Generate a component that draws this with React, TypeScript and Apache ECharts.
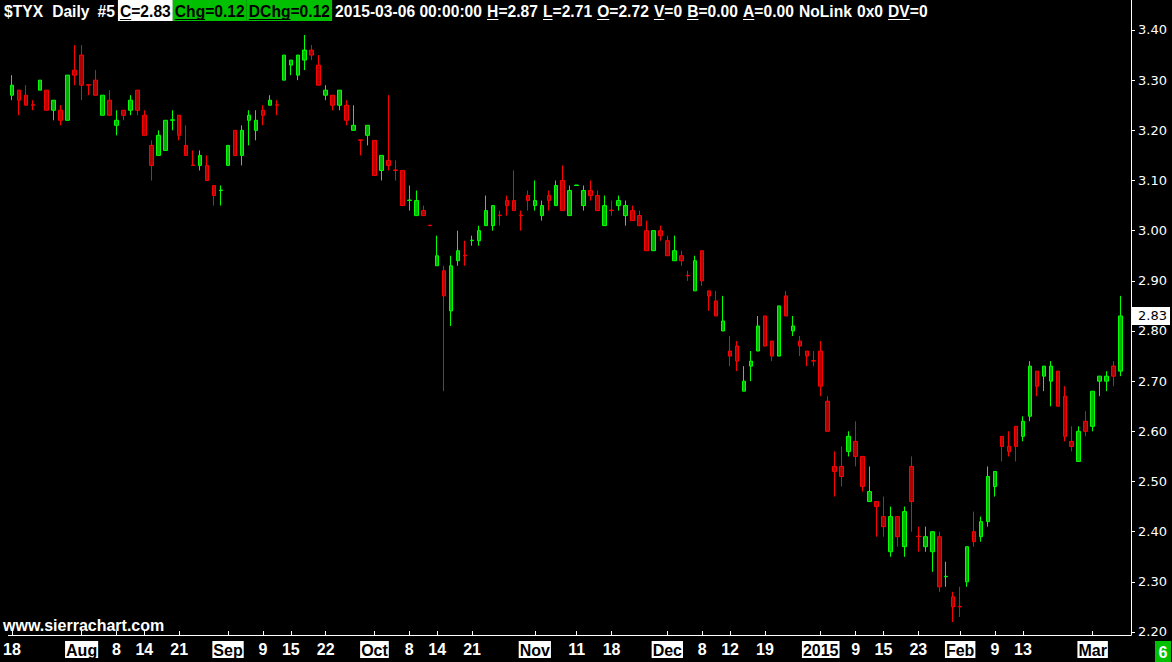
import React, { useEffect, useRef } from "react";
import * as echarts from "echarts";

// Trading days (categories)
const tradingDays: [string, number[]][] = [
  ["2014-07", [18, 21, 22, 23, 24, 25, 28, 29, 30, 31]],
  ["2014-08", [1, 4, 5, 6, 7, 8, 11, 12, 13, 14, 15, 18, 19, 20, 21, 22, 25, 26, 27, 28, 29]],
  ["2014-09", [2, 3, 4, 5, 8, 9, 10, 11, 12, 15, 16, 17, 18, 19, 22, 23, 24, 25, 26, 29, 30]],
  ["2014-10", [1, 2, 3, 6, 7, 8, 9, 10, 13, 14, 15, 16, 17, 20, 21, 22, 23, 24, 27, 28, 29, 30, 31]],
  ["2014-11", [3, 4, 5, 6, 7, 10, 11, 12, 13, 14, 17, 18, 19, 20, 21, 24, 25, 26, 28]],
  ["2014-12", [1, 2, 3, 4, 5, 8, 9, 10, 11, 12, 15, 16, 17, 18, 19, 22, 23, 24, 26, 29, 30, 31]],
  ["2015-01", [2, 5, 6, 7, 8, 9, 12, 13, 14, 15, 16, 20, 21, 22, 23, 26, 27, 28, 29, 30]],
  ["2015-02", [2, 3, 4, 5, 6, 9, 10, 11, 12, 13, 17, 18, 19, 20, 23, 24, 25, 26, 27]],
  ["2015-03", [2, 3, 4, 5, 6]],
];
const dates: string[] = tradingDays.flatMap(([m, ds]) =>
  ds.map((d) => `${m}-${String(d).padStart(2, "0")}`)
);

const open = [
  3.27, 3.28, 3.27, 3.251, 3.28, 3.28, 3.24, 3.24, 3.22, 3.32,
  3.35, 3.291, 3.30, 3.23, 3.26, 3.21, 3.24, 3.24, 3.28, 3.23,
  3.17, 3.15, 3.16, 3.22, 3.23, 3.17, 3.131, 3.13, 3.13, 3.09,
  3.08, 3.13, 3.20, 3.15, 3.22, 3.20, 3.24, 3.25, 3.251, 3.30,
  3.33, 3.31, 3.34, 3.36, 3.33, 3.27, 3.27, 3.25, 3.25, 3.20,
  3.181, 3.19, 3.18, 3.12, 3.14, 3.121, 3.12, 3.06, 3.03, 3.04,
  3.011, 2.93, 2.92, 2.84, 2.94, 2.951, 2.98, 2.98, 3.01, 3.01,
  3.031, 3.06, 3.06, 3.031, 3.07, 3.05, 3.03, 3.07, 3.05, 3.10,
  3.03, 3.09, 3.05, 3.08, 3.07, 3.01, 3.041, 3.05, 3.03, 3.04,
  3.03, 3.00, 2.96, 3.00, 2.98, 2.94, 2.95, 2.911, 2.88, 2.96,
  2.88, 2.86, 2.80, 2.76, 2.77, 2.68, 2.73, 2.76, 2.83, 2.78,
  2.75, 2.87, 2.80, 2.78, 2.76, 2.741, 2.76, 2.66, 2.53, 2.53,
  2.56, 2.58, 2.55, 2.46, 2.46, 2.43, 2.36, 2.43, 2.37, 2.53,
  2.391, 2.37, 2.36, 2.39, 2.31, 2.27, 2.251, 2.30, 2.40, 2.39,
  2.42, 2.49, 2.59, 2.57, 2.61, 2.59, 2.63, 2.72, 2.71, 2.70,
  2.72, 2.67, 2.58, 2.54, 2.62, 2.61, 2.70, 2.70, 2.73, 2.72,
];
const close = [
  3.29, 3.26, 3.25, 3.25, 3.30, 3.24, 3.26, 3.22, 3.31, 3.31,
  3.29, 3.29, 3.27, 3.27, 3.23, 3.22, 3.23, 3.26, 3.24, 3.19,
  3.13, 3.19, 3.22, 3.221, 3.19, 3.15, 3.13, 3.15, 3.10, 3.07,
  3.081, 3.17, 3.15, 3.20, 3.23, 3.22, 3.23, 3.26, 3.25, 3.35,
  3.34, 3.35, 3.36, 3.35, 3.29, 3.28, 3.25, 3.28, 3.22, 3.21,
  3.18, 3.21, 3.11, 3.15, 3.13, 3.12, 3.05, 3.061, 3.06, 3.03,
  3.01, 2.95, 2.87, 2.93, 2.96, 2.95, 2.981, 3.00, 3.04, 3.05,
  3.03, 3.05, 3.04, 3.03, 3.06, 3.06, 3.05, 3.06, 3.09, 3.04,
  3.08, 3.091, 3.08, 3.07, 3.04, 3.05, 3.04, 3.06, 3.05, 3.02,
  3.01, 2.96, 3.00, 2.99, 2.95, 2.96, 2.94, 2.91, 2.94, 2.90,
  2.87, 2.83, 2.82, 2.75, 2.74, 2.70, 2.74, 2.81, 2.77, 2.75,
  2.85, 2.83, 2.81, 2.77, 2.75, 2.74, 2.69, 2.60, 2.52, 2.51,
  2.59, 2.55, 2.49, 2.48, 2.45, 2.41, 2.43, 2.39, 2.44, 2.46,
  2.39, 2.39, 2.40, 2.29, 2.311, 2.25, 2.25, 2.37, 2.38, 2.42,
  2.51, 2.52, 2.57, 2.56, 2.57, 2.62, 2.73, 2.69, 2.73, 2.73,
  2.65, 2.59, 2.57, 2.60, 2.60, 2.68, 2.71, 2.71, 2.71, 2.83,
];
const high = [
  3.31, 3.28, 3.29, 3.26, 3.30, 3.28, 3.26, 3.25, 3.31, 3.37,
  3.37, 3.291, 3.32, 3.27, 3.28, 3.24, 3.24, 3.27, 3.28, 3.24,
  3.18, 3.20, 3.22, 3.24, 3.23, 3.21, 3.16, 3.16, 3.15, 3.09,
  3.09, 3.17, 3.20, 3.21, 3.24, 3.24, 3.25, 3.27, 3.26, 3.35,
  3.34, 3.35, 3.39, 3.37, 3.35, 3.29, 3.27, 3.28, 3.26, 3.25,
  3.181, 3.21, 3.18, 3.15, 3.27, 3.14, 3.12, 3.09, 3.08, 3.05,
  3.011, 2.99, 2.93, 2.95, 3.00, 2.98, 2.99, 3.01, 3.07, 3.05,
  3.04, 3.07, 3.12, 3.04, 3.08, 3.10, 3.06, 3.08, 3.10, 3.13,
  3.09, 3.091, 3.09, 3.10, 3.08, 3.07, 3.06, 3.07, 3.06, 3.05,
  3.04, 3.02, 3.00, 3.01, 2.99, 2.99, 2.96, 2.92, 2.95, 2.96,
  2.88, 2.88, 2.87, 2.79, 2.78, 2.73, 2.76, 2.83, 2.83, 2.78,
  2.85, 2.88, 2.83, 2.79, 2.76, 2.76, 2.78, 2.67, 2.56, 2.57,
  2.60, 2.62, 2.55, 2.53, 2.46, 2.47, 2.45, 2.43, 2.45, 2.55,
  2.41, 2.41, 2.40, 2.40, 2.34, 2.28, 2.29, 2.37, 2.44, 2.43,
  2.53, 2.52, 2.59, 2.60, 2.61, 2.63, 2.74, 2.72, 2.73, 2.74,
  2.72, 2.69, 2.61, 2.61, 2.64, 2.68, 2.71, 2.72, 2.74, 2.87,
];
const low = [
  3.26, 3.23, 3.25, 3.24, 3.28, 3.24, 3.22, 3.21, 3.22, 3.29,
  3.26, 3.27, 3.27, 3.23, 3.23, 3.19, 3.22, 3.23, 3.23, 3.19,
  3.10, 3.15, 3.16, 3.20, 3.18, 3.15, 3.13, 3.12, 3.10, 3.05,
  3.05, 3.13, 3.15, 3.13, 3.17, 3.18, 3.21, 3.25, 3.23, 3.30,
  3.31, 3.30, 3.32, 3.34, 3.29, 3.26, 3.24, 3.24, 3.21, 3.20,
  3.15, 3.17, 3.11, 3.10, 3.12, 3.10, 3.05, 3.04, 3.03, 3.03,
  3.01, 2.93, 2.68, 2.81, 2.93, 2.93, 2.97, 2.97, 3.01, 3.00,
  3.01, 3.03, 3.04, 3.00, 3.04, 3.04, 3.02, 3.04, 3.05, 3.04,
  3.03, 3.09, 3.04, 3.06, 3.04, 3.01, 3.03, 3.04, 3.01, 3.02,
  3.01, 2.96, 2.96, 2.98, 2.95, 2.94, 2.93, 2.90, 2.88, 2.89,
  2.84, 2.83, 2.80, 2.73, 2.72, 2.68, 2.70, 2.76, 2.77, 2.74,
  2.75, 2.83, 2.79, 2.75, 2.73, 2.73, 2.67, 2.60, 2.47, 2.49,
  2.55, 2.53, 2.48, 2.46, 2.39, 2.39, 2.35, 2.37, 2.35, 2.40,
  2.36, 2.36, 2.32, 2.28, 2.29, 2.22, 2.23, 2.29, 2.37, 2.38,
  2.41, 2.47, 2.54, 2.55, 2.54, 2.58, 2.62, 2.67, 2.68, 2.65,
  2.65, 2.58, 2.56, 2.54, 2.59, 2.60, 2.67, 2.68, 2.69, 2.71,
];

// Dates that carry a label on the time axis
const labelDates = [
  "2014-07-18", "2014-08-01", "2014-08-08", "2014-08-14", "2014-08-21",
  "2014-09-02", "2014-09-09", "2014-09-15", "2014-09-22",
  "2014-10-01", "2014-10-08", "2014-10-14", "2014-10-21",
  "2014-11-03", "2014-11-11", "2014-11-18",
  "2014-12-01", "2014-12-08", "2014-12-12", "2014-12-19",
  "2015-01-02", "2015-01-09", "2015-01-15", "2015-01-23",
  "2015-02-02", "2015-02-09", "2015-02-13", "2015-03-02",
];
const priceTicks = [2.2, 2.3, 2.4, 2.5, 2.6, 2.7, 2.8, 2.9, 3.0, 3.1, 3.2, 3.3, 3.4];
const monthNames = ["Jan", "Feb", "Mar", "Apr", "May", "Jun", "Jul", "Aug", "Sep", "Oct", "Nov", "Dec"];

const SANS = '"Liberation Sans", Arial, sans-serif';
const AXIS_SIZE = 16;
const HDR_SIZE = 17;

function measure(text: string, font: string): number {
  const c = document.createElement("canvas").getContext("2d");
  if (!c) return text.length * 8;
  c.font = font;
  return c.measureText(text).width;
}

export default function App() {
  const ref = useRef<HTMLDivElement>(null);

  useEffect(() => {
    if (!ref.current) return;
    const chart = echarts.init(ref.current, undefined, { renderer: "svg" });
    const labelSet = new Set(labelDates);
    const n = dates.length;
    const last = n - 1;
    const data = dates.map((_, i) => [open[i], close[i], low[i], high[i]]);

    const fmtDate = (value: string) => {
      if (!value) return "";
      const i = dates.indexOf(value);
      const [y, m, d] = value.split("-");
      if (i > 0 && dates[i - 1].slice(5, 7) !== m) {
        const txt = m === "01" ? y : monthNames[Number(m) - 1];
        return `{m|${txt}}`;
      }
      return String(Number(d));
    };

    chart.setOption({
      animation: false,
      backgroundColor: "#000",
      grid: { left: 4, top: 0, width: 1127, height: 635 },
      xAxis: {
        type: "category",
        data: dates,
        max: n,
        boundaryGap: true,
        axisLine: { show: true, lineStyle: { color: "#fff", width: 1 } },
        axisTick: {
          show: true,
          inside: true,
          length: 4,
          alignWithLabel: true,
          interval: (_i: number, v: string) => labelSet.has(v),
          lineStyle: { color: "#fff" },
        },
        axisLabel: {
          interval: (_i: number, v: string) => labelSet.has(v),
          formatter: fmtDate,
          color: "#fff",
          fontFamily: SANS,
          fontSize: AXIS_SIZE,
          fontWeight: "bold",
          margin: 6,
          rich: {
            m: {
              backgroundColor: "#fff",
              color: "#000",
              fontFamily: SANS,
              fontSize: AXIS_SIZE,
              fontWeight: "bold",
              padding: [1, 1, 0, 1],
            },
          },
        },
        splitLine: { show: false },
      },
      yAxis: {
        type: "value",
        position: "right",
        min: 2.194,
        max: 3.4598,
        axisLine: { show: true, lineStyle: { color: "#fff", width: 1 } },
        axisTick: { show: true, length: 4, customValues: priceTicks, lineStyle: { color: "#fff" } },
        axisLabel: {
          customValues: priceTicks,
          formatter: (v: number) => v.toFixed(2),
          color: "#fff",
          fontFamily: "DejaVu Sans",
          fontSize: 13,
          margin: 7,
        },
        splitLine: { show: false },
      },
      series: [
        {
          type: "candlestick",
          data,
          barWidth: 4,
          itemStyle: {
            color: "#00B000",
            color0: "#B00000",
            borderColor: "#00FF00",
            borderColor0: "#FF0000",
            borderWidth: 1,
          },
        },
      ],
    });

    // header + overlays
    const hdrFont = `bold ${HDR_SIZE}px ${SANS}`;
    const dateText = "2015-03-06 00:00:00";
    const sx = 147 / measure(dateText, hdrFont); // condensed look
    const chg = (close[last] - close[last - 1]).toFixed(2);
    const pieces: { t: string; ul?: string; bg?: string; fg?: string; gap?: number }[] = [
      { t: "$TYX", gap: 9 },
      { t: "Daily", gap: 8 },
      { t: "#5", gap: 5 },
      { t: `C=${close[last].toFixed(2)}`, ul: "C", bg: "#fff", fg: "#000", gap: 4 },
      { t: `Chg=${chg}`, ul: "Chg", bg: "#00C000", fg: "#000", gap: 4 },
      { t: `DChg=${chg}`, ul: "DChg", bg: "#00C000", fg: "#000", gap: 5 },
      { t: dateText },
      { t: `H=${high[last].toFixed(2)}`, ul: "H" },
      { t: `L=${low[last].toFixed(2)}`, ul: "L" },
      { t: `O=${open[last].toFixed(2)}`, ul: "O" },
      { t: "V=0", ul: "V" },
      { t: "B=0.00", ul: "B" },
      { t: "A=0.00", ul: "A" },
      { t: "NoLink" },
      { t: "0x0" },
      { t: "DV=0", ul: "DV" },
    ];
    const elements: any[] = [];
    let cx = 4;
    for (const p of pieces) {
      const w = measure(p.t, hdrFont) * sx;
      const fg = p.fg || "#fff";
      if (p.bg) {
        elements.push({
          type: "rect",
          z: 100,
          shape: { x: cx - 2, y: 0, width: w + 4, height: 21 },
          style: { fill: p.bg },
        });
      }
      elements.push({
        type: "text",
        z: 101,
        x: cx,
        y: 11,
        scaleX: sx,
        style: { text: p.t, fill: fg, font: hdrFont, verticalAlign: "middle" },
      });
      if (p.ul) {
        const uw = measure(p.ul, hdrFont) * sx;
        elements.push({
          type: "line",
          z: 101,
          shape: { x1: cx, y1: 19.5, x2: cx + uw, y2: 19.5 },
          style: { stroke: fg, lineWidth: 1 },
        });
      }
      cx += w + (p.gap ?? 5);
    }

    // watermark
    elements.push({
      type: "text",
      z: 101,
      x: 3,
      y: 625,
      style: {
        text: "www.sierrachart.com",
        fill: "#fff",
        font: `bold 16px ${SANS}`,
        verticalAlign: "middle",
      },
    });

    // clip the bottom price label under the time axis
    elements.push({
      type: "rect",
      z: 100,
      shape: { x: 1132, y: 636, width: 40, height: 26 },
      style: { fill: "#000" },
    });
    // last bar date box
    const lastDay = String(Number(dates[last].slice(8, 10)));
    elements.push({
      type: "rect",
      z: 101,
      shape: { x: 1155, y: 641, width: 16, height: 21 },
      style: { fill: "#00C000" },
    });
    elements.push({
      type: "text",
      z: 102,
      x: 1163,
      y: 652,
      style: { text: lastDay, fill: "#fff", font: `bold ${AXIS_SIZE}px ${SANS}`, align: "center", verticalAlign: "middle" },
    });

    // last price box
    const yPix = chart.convertToPixel({ yAxisIndex: 0 }, close[last]) as number;
    elements.push({
      type: "rect",
      z: 101,
      shape: { x: 1132, y: yPix - 9, width: 38, height: 18 },
      style: { fill: "#fff" },
    });
    elements.push({
      type: "text",
      z: 102,
      x: 1138,
      y: yPix,
      style: {
        text: close[last].toFixed(2),
        fill: "#000",
        font: '13px "DejaVu Sans", sans-serif',
        verticalAlign: "middle",
      },
    });

    chart.setOption({ graphic: { elements } });

    return () => chart.dispose();
  }, []);

  return (
    <div
      ref={ref}
      style={{ position: "fixed", left: 0, top: 0, width: 1172, height: 662, background: "#000" }}
    />
  );
}
